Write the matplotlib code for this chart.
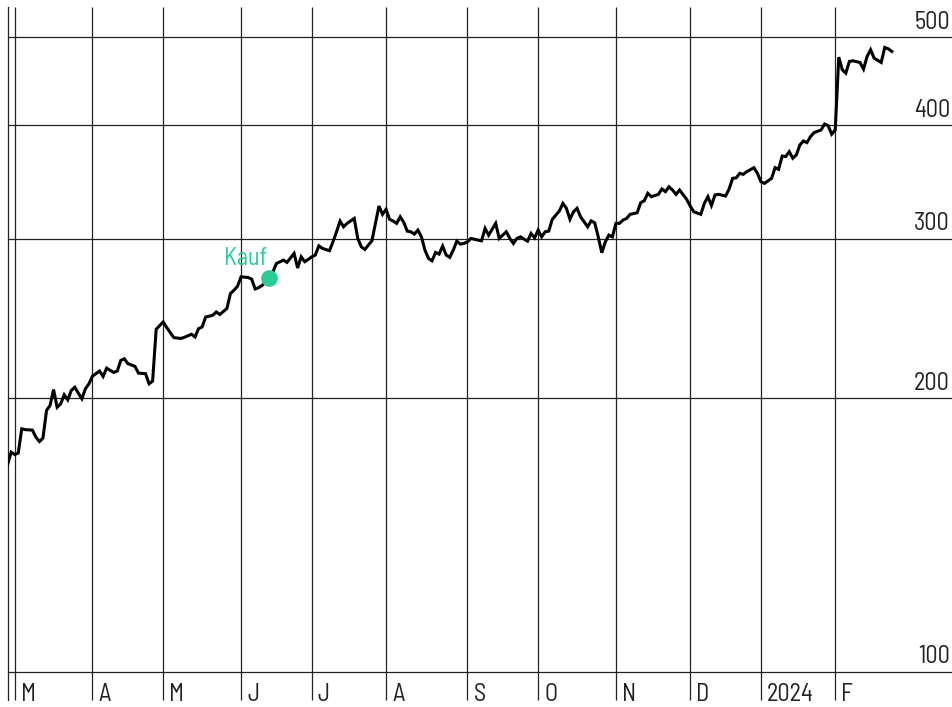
import matplotlib
matplotlib.use("Agg")
import matplotlib.pyplot as plt
from matplotlib import font_manager

# ---------------- data ----------------
# trading session index (0 = first session of March 2023)
session = [-2, -1, 0, 1, 2, 3, 5, 6, 7, 8, 9, 10, 11, 12, 13, 14, 15, 16, 17, 18,
           19, 20, 21, 22, 24, 25, 26, 27, 28, 29, 30, 31, 32, 34, 35, 37, 38, 39, 40, 42,
           43, 44, 45, 47, 48, 50, 51, 52, 53, 54, 56, 57, 58, 60, 61, 62, 63, 64, 66, 67,
           68, 69, 70, 72, 73, 74, 75, 76, 77, 79, 80, 81, 82, 83, 84, 85, 86, 87, 89, 90,
           91, 92, 93, 94, 96, 97, 98, 99, 101, 102, 103, 104, 105, 106, 107, 108, 109, 110, 111, 112,
           113, 114, 115, 116, 117, 118, 119, 120, 121, 122, 123, 124, 125, 126, 127, 128, 129, 131, 132, 133,
           134, 136, 137, 139, 140, 141, 142, 143, 145, 146, 147, 148, 149, 150, 151, 152, 153, 154, 155, 156,
           157, 158, 159, 160, 162, 163, 164, 165, 166, 167, 168, 169, 170, 171, 172, 173, 174, 176, 177, 178,
           179, 180, 182, 183, 184, 185, 186, 187, 188, 190, 191, 192, 194, 195, 196, 197, 198, 199, 201, 202,
           203, 204, 205, 206, 207, 209, 210, 211, 212, 214, 215, 216, 217, 218, 219, 220, 221, 222, 223, 224,
           225, 226, 228, 229, 230, 231, 232, 233, 234, 235, 236, 237, 239, 240, 241, 242, 243, 245, 246, 247,
           248]
close = [169.2, 174.5, 173.5, 174.1, 185.2, 184.8, 184.6, 181.3, 179.3, 180.9, 194.0, 196.5, 204.6, 195.6, 197.3, 201.9, 199.3, 204.1, 205.8, 202.7,
         199.9, 205.0, 207.6, 211.7, 214.4, 211.5, 216.0, 214.8, 213.7, 214.4, 220.3, 221.2, 218.5, 217.0, 213.3, 213.0, 207.6, 209.0, 238.4, 242.9,
         239.4, 236.4, 233.4, 232.9, 233.6, 235.4, 233.8, 238.8, 239.8, 245.9, 247.0, 249.1, 247.5, 251.3, 261.0, 263.2, 265.9, 272.3, 271.9, 270.7,
         264.1, 265.0, 266.5, 271.2, 275.7, 281.7, 282.9, 284.1, 282.5, 289.0, 278.5, 286.5, 283.0, 284.6, 286.5, 287.8, 294.6, 292.7, 291.0, 297.6,
         305.3, 313.7, 309.2, 311.9, 315.8, 300.2, 293.9, 291.9, 298.4, 311.9, 325.9, 319.1, 323.2, 315.1, 313.7, 311.9, 317.1, 312.7, 305.8, 305.3,
         303.5, 306.6, 301.4, 291.4, 285.3, 283.6, 289.7, 288.5, 294.4, 287.8, 286.1, 291.4, 298.1, 295.9, 296.4, 297.6, 300.2, 298.9, 298.4, 307.9,
         302.7, 311.9, 300.2, 305.3, 300.2, 296.4, 300.2, 301.4, 298.1, 304.0, 300.6, 306.6, 301.4, 305.3, 305.8, 315.1, 318.5, 321.8, 328.1, 324.0,
         315.1, 321.2, 324.0, 317.1, 309.2, 313.9, 312.3, 301.4, 289.5, 297.6, 302.7, 301.4, 311.9, 311.9, 314.5, 315.8, 319.1, 320.4, 328.7, 330.3,
         336.6, 333.7, 335.7, 340.3, 338.0, 342.2, 339.4, 335.7, 339.4, 331.5, 325.9, 321.2, 319.1, 328.1, 333.7, 326.4, 335.2, 335.7, 334.3, 340.3,
         349.6, 350.1, 354.1, 353.2, 355.6, 359.2, 354.1, 346.6, 345.2, 349.6, 359.2, 357.7, 370.0, 369.5, 374.1, 367.9, 371.0, 380.5, 384.4, 382.8,
         388.6, 392.6, 395.3, 401.3, 399.6, 391.1, 395.3, 475.5, 460.5, 456.6, 470.3, 471.1, 469.1, 461.3, 476.2, 484.5, 474.3, 469.1, 487.3, 485.7,
         482.4]

month_start = [0, 22, 42, 64, 84, 105, 128, 148, 170, 191, 211, 232]
month_label = ["M", "A", "M", "J", "J", "A", "S", "O", "N", "D", "2024", "F"]

y_ticks = [100, 200, 300, 400, 500]

buy_session = 72
buy_price = 271.2
buy_label = "Kauf"

# ---------------- style ----------------
available = {f.name for f in font_manager.fontManager.ttflist}
prefs = ["Barlow Semi Condensed", "Barlow Condensed", "Roboto Condensed",
         "Archivo Narrow", "Asap Condensed", "Liberation Sans Narrow"]
fam = [f for f in prefs if f in available][:1] + ["DejaVu Sans"]
plt.rcParams["font.family"] = fam
FS = 17.5

W, H, DPI = 953, 707, 100
fig = plt.figure(figsize=(W / DPI, H / DPI), dpi=DPI)
ax_left, ax_right = 8 / W, 1.0
ax_bottom, ax_top = (H - 671.7) / H, (H - 7) / H
ax = fig.add_axes([ax_left, ax_bottom, ax_right - ax_left, ax_top - ax_bottom])

ax.set_yscale("log")
ax.set_ylim(100, 540)
ax.set_xlim(-1.89, 265.3)
for s in ax.spines.values():
    s.set_visible(False)
ax.set_xticks([])
ax.set_yticks([])
ax.yaxis.set_minor_locator(matplotlib.ticker.NullLocator())

grid_col = "#222222"
below = -28.3 / (671.7 - 7)

# horizontal grid lines + labels
for v in y_ticks:
    ax.axhline(v, color=grid_col, lw=0.9, zorder=1, clip_on=False)
    ax.annotate(str(v), xy=(1.0, v), xycoords=ax.get_yaxis_transform(),
                xytext=(-3, 8.5), textcoords="offset pixels",
                ha="right", va="baseline", fontsize=FS, color="#222222")

# month lines + labels
xt = ax.get_xaxis_transform()
ax.vlines(month_start, below, 1, transform=xt, color=grid_col, lw=0.9,
          clip_on=False, zorder=1)
ax.plot([0, 0], [below, 1], transform=ax.transAxes, color=grid_col, lw=0.9,
        clip_on=False, zorder=1)
for m, lab in zip(month_start, month_label):
    ax.annotate(lab, xy=(m, 0), xycoords=xt, xytext=(6, -29),
                textcoords="offset pixels", ha="left", va="baseline",
                fontsize=FS, color="#222222", annotation_clip=False)

# price line
ax.plot(session, close, color="black", lw=2.2, zorder=3,
        solid_joinstyle="miter")

# buy marker
green = "#2bcb97"
ax.plot([buy_session], [buy_price], "o", color=green, ms=11, zorder=4)
ax.annotate(buy_label, xy=(buy_session, buy_price), xytext=(-2, 13),
            textcoords="offset pixels", ha="right", va="baseline",
            fontsize=FS, color=green, zorder=5)

fig.savefig("out.png", dpi=DPI)
